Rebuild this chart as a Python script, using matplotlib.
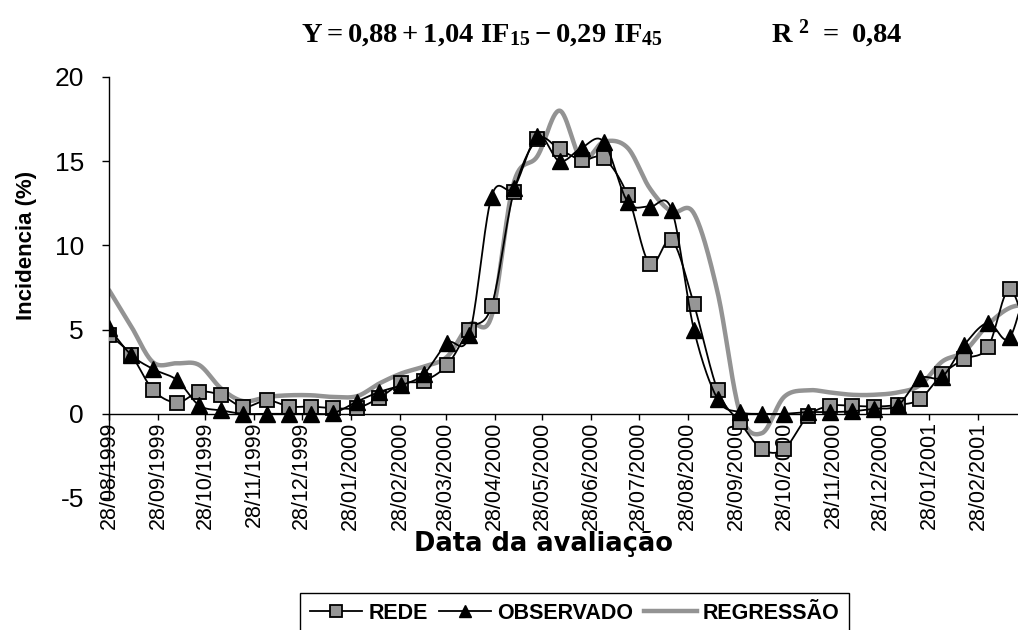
import matplotlib
matplotlib.use('Agg')
import matplotlib.pyplot as plt
import matplotlib.dates as mdates
from matplotlib.lines import Line2D
from matplotlib.font_manager import FontProperties
import numpy as np
import pandas as pd

# ---------------- data ----------------
dates = ['1999-08-28', '1999-09-11', '1999-09-25', '1999-10-10', '1999-10-24',
         '1999-11-07', '1999-11-21', '1999-12-06', '1999-12-20', '2000-01-03',
         '2000-01-17', '2000-02-01', '2000-02-15', '2000-02-29', '2000-03-14',
         '2000-03-29', '2000-04-12', '2000-04-26', '2000-05-10', '2000-05-25',
         '2000-06-08', '2000-06-22', '2000-07-06', '2000-07-21', '2000-08-04',
         '2000-08-18', '2000-09-01', '2000-09-16', '2000-09-30', '2000-10-14',
         '2000-10-28', '2000-11-12', '2000-11-26', '2000-12-10', '2000-12-24',
         '2001-01-08', '2001-01-22', '2001-02-05', '2001-02-19', '2001-03-06',
         '2001-03-20', '2001-04-03']

rede = [4.7, 3.5, 1.4, 0.67, 1.3, 1.1, 0.4, 0.8, 0.43, 0.43,
        0.33, 0.35, 0.95, 1.8, 1.95, 2.9, 5.0, 6.4, 13.15, 16.3,
        15.7, 15.07, 15.17, 13.0, 8.9, 10.3, 6.5, 1.4, -0.5, -2.1,
        -2.1, -0.15, 0.47, 0.47, 0.43, 0.53, 0.87, 2.35, 3.25, 3.95,
        7.4, 3.4]

observado = [5.1, 3.5, 2.65, 2.0, 0.5, 0.2, 0.0, 0.0, 0.0, 0.0,
             0.05, 0.73, 1.3, 1.7, 2.35, 4.2, 4.7, 12.9, 13.4, 16.5,
             15.0, 15.8, 16.15, 12.6, 12.3, 12.1, 5.0, 0.87, 0.1, 0.0,
             0.0, 0.1, 0.1, 0.15, 0.3, 0.5, 2.1, 2.2, 4.1, 5.4,
             4.55, 9.3]

regressao = [7.35, 5.2, 3.05, 3.0, 2.9, 1.5, 0.75, 1.0, 1.1, 1.1,
             1.0, 1.05, 1.8, 2.4, 2.8, 3.4, 5.3, 5.8, 13.7, 15.3,
             18.0, 15.1, 16.15, 15.8, 13.4, 12.0, 11.9, 7.2, 0.1, -1.15,
             1.0, 1.4, 1.27, 1.13, 1.13, 1.27, 1.7, 3.1, 3.7, 5.3,
             6.3, 6.5]

tick_dates = ['1999-08-28', '1999-09-28', '1999-10-28', '1999-11-28', '1999-12-28',
              '2000-01-28', '2000-02-28', '2000-03-28', '2000-04-28', '2000-05-28',
              '2000-06-28', '2000-07-28', '2000-08-28', '2000-09-28', '2000-10-28',
              '2000-11-28', '2000-12-28', '2001-01-28', '2001-02-28']
tick_labels = [pd.Timestamp(d).strftime('%d/%m/%Y') for d in tick_dates]
y_ticks = [-5, 0, 5, 10, 15, 20]
series_names = ['REDE', 'OBSERVADO', 'REGRESSÃO']

x_start = '1999-08-28'
x_end = '2001-03-25'

# ---------------- helpers ----------------
def smooth(x, y, n=30):
    """Excel-like smoothed line (Catmull-Rom Bezier)."""
    P = np.column_stack([x, y]).astype(float)
    P = np.vstack([P[0], P, P[-1]])
    out = []
    t = np.linspace(0, 1, n, endpoint=False)[:, None]
    for i in range(1, len(P) - 2):
        p0, p1, p2, p3 = P[i - 1], P[i], P[i + 1], P[i + 2]
        c1 = p1 + (p2 - p0) / 6.0
        c2 = p2 - (p3 - p1) / 6.0
        b = ((1 - t) ** 3) * p1 + 3 * ((1 - t) ** 2) * t * c1 + 3 * (1 - t) * t ** 2 * c2 + t ** 3 * p2
        out.append(b)
    out.append(P[-2][None, :])
    out = np.vstack(out)
    return out[:, 0], out[:, 1]

# ---------------- figure ----------------
plt.rcParams['mathtext.fontset'] = 'custom'
plt.rcParams['mathtext.rm'] = 'Liberation Serif:bold'
plt.rcParams['mathtext.bf'] = 'Liberation Serif:bold'
plt.rcParams['mathtext.it'] = 'Liberation Serif:bold'

W, H = 1018, 630
fig = plt.figure(figsize=(W / 100, H / 100), dpi=100)
ax = fig.add_axes([109 / W, 1 - 498 / H, (W - 109) / W, (498 - 77) / H])

xn = mdates.date2num(pd.to_datetime(dates).to_pydatetime())
gray_line = '#939393'
gray_fill = '#969696'

# regression
sx, sy = smooth(xn, regressao)
ax.plot(sx, sy, color=gray_line, lw=3.2, solid_capstyle='round', zorder=2)
# rede
sx, sy = smooth(xn, rede)
ax.plot(sx, sy, color='black', lw=1.3, zorder=3)
ax.plot(xn, rede, ls='none', marker='s', ms=10, mfc=gray_fill, mec='black', mew=1.3, zorder=4)
# observado
sx, sy = smooth(xn, observado)
ax.plot(sx, sy, color='black', lw=1.3, zorder=5)
ax.plot(xn, observado, ls='none', marker='^', ms=11, mfc='black', mec='black', mew=1, zorder=6)

# axes
ax.set_xlim(mdates.date2num(pd.Timestamp(x_start).to_pydatetime()),
            mdates.date2num(pd.Timestamp(x_end).to_pydatetime()))
ax.set_ylim(-5, 20)
ax.spines['top'].set_visible(False)
ax.spines['right'].set_visible(False)
ax.spines['bottom'].set_position(('data', 0))
for s in ('left', 'bottom'):
    ax.spines[s].set_linewidth(1.0)

tick_nums = mdates.date2num(pd.to_datetime(tick_dates).to_pydatetime())
ax.set_xticks(tick_nums)
ax.set_xticklabels(tick_labels, rotation=90, fontsize=15.5, family='Liberation Sans')
ax.tick_params(axis='x', direction='out', length=4, width=1, pad=1.5)

ax.set_yticks(y_ticks)
ax.set_yticklabels([str(v) for v in y_ticks], fontsize=19, family='Liberation Sans')
ax.tick_params(axis='y', direction='out', length=5, width=1, pad=13)

# axis titles
fig.text(27 / W, 1 - 245 / H, 'Incidencia (%)', rotation=90, ha='center', va='center',
         fontsize=16, fontweight='bold', family='Liberation Sans')
fig.text(544 / W, 1 - 544 / H, 'Data da avaliação', ha='center', va='center',
         fontsize=18.5, fontweight='bold', family='DejaVu Sans')

# equation title
fig.text(301 / W, 1 - 34 / H, r'$Y = 0{,}88 + 1{,}04\ IF_{15} - 0{,}29\ IF_{45}$',
         ha='left', va='center', fontsize=20.5)
fig.text(771 / W, 1 - 34 / H, r'$R^{\ 2}\ =\ 0{,}84$',
         ha='left', va='center', fontsize=20.5)

# legend
handles = [
    Line2D([], [], color='black', lw=1.3, marker='s', ms=9, mfc=gray_fill, mec='black', mew=1.3),
    Line2D([], [], color='black', lw=1.3, marker='^', ms=9, mfc='black', mec='black'),
    Line2D([], [], color=gray_line, lw=3.2),
]
leg = fig.legend(handles, series_names, loc='upper left',
                 bbox_to_anchor=(300 / W, 1 - 593 / H), ncol=3, frameon=True,
                 fancybox=False, edgecolor='black', framealpha=1,
                 prop=FontProperties(family='Liberation Sans', weight='bold', size=15.5),
                 handlelength=2.45, handletextpad=0.28, columnspacing=0.5,
                 borderpad=0.45, borderaxespad=0)
leg.get_frame().set_linewidth(1.0)

fig.savefig('out.png', dpi=100)
